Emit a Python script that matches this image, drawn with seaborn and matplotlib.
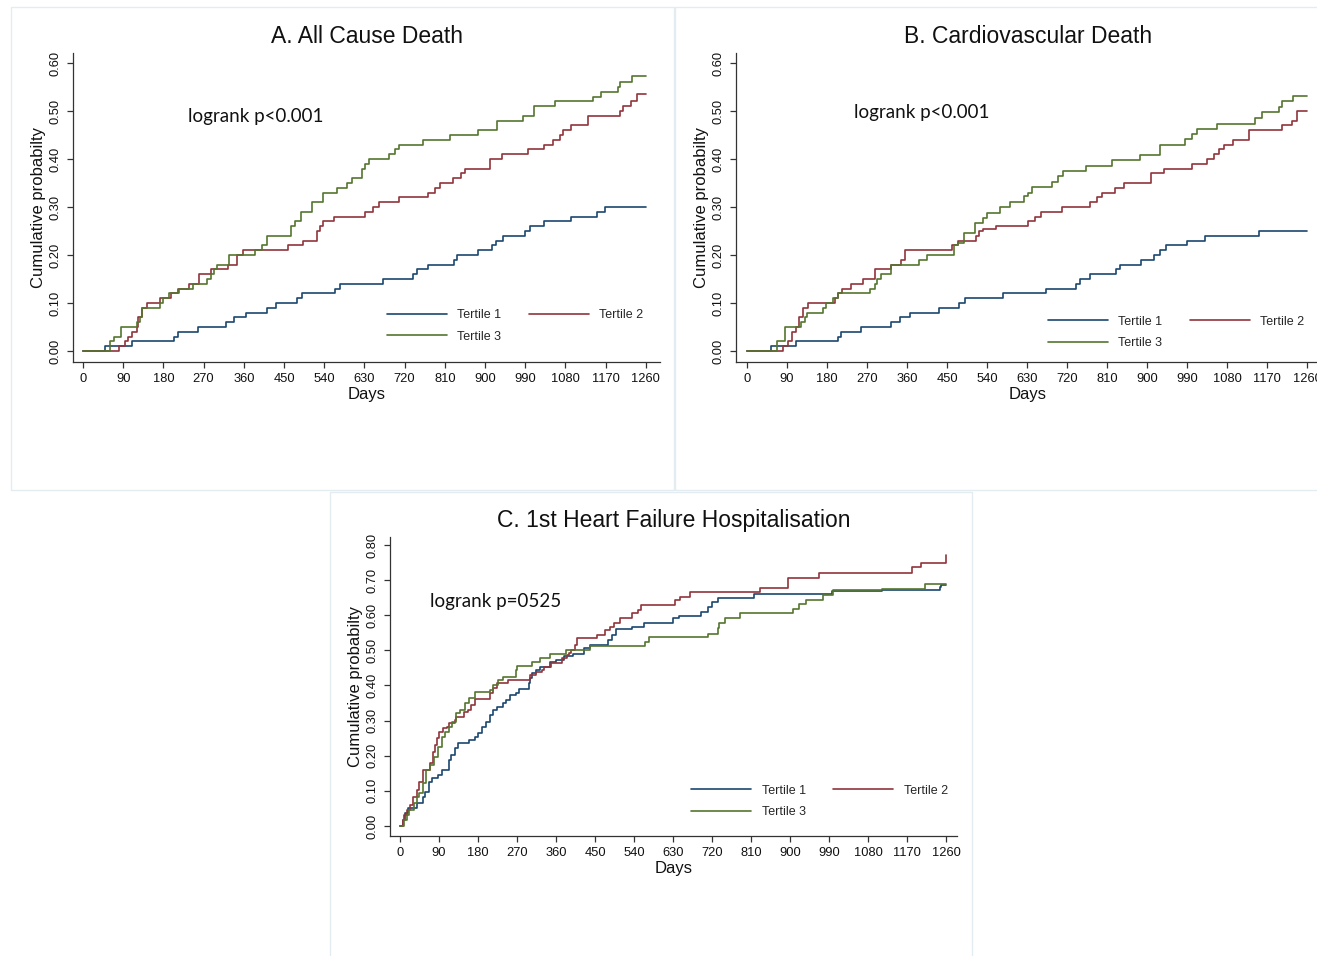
import numpy as np
import pandas as pd
import matplotlib
matplotlib.use("Agg")
import matplotlib.pyplot as plt
from matplotlib.lines import Line2D
from matplotlib.patches import Rectangle
import seaborn as sns

# ---------------- data ----------------
groups = ["Tertile 1", "Tertile 2", "Tertile 3"]
colors = ["#1a476f", "#90353b", "#55752f"]
xticks = list(range(0, 1261, 90))

# Panel A: All cause death
a_t1_days = [0, 50, 110, 204, 213, 257, 321, 339, 365, 411, 431, 478, 491, 564, 575, 671, 738, 748, 772,
             830, 838, 885, 915, 924, 941, 990, 1001, 1031, 1093, 1151, 1168, 1260]
a_t1_prob = [0, .01, .02, .03, .04, .05, .06, .07, .08, .09, .10, .11, .12, .13, .14, .15, .16, .17, .18,
             .19, .20, .21, .22, .23, .24, .25, .26, .27, .28, .29, .30, .30]
a_t2_days = [0, 80, 93, 101, 110, 120, 124, 131, 144, 172, 198, 213, 237, 260, 287, 324, 345, 358, 458, 493,
             524, 530, 538, 561, 632, 650, 662, 707, 772, 787, 800, 828, 847, 855, 911, 939, 997, 1033, 1052,
             1067, 1074, 1093, 1130, 1202, 1208, 1226, 1241, 1260]
a_t2_prob = [0, .01, .02, .03, .04, .05, .07, .09, .10, .11, .12, .13, .14, .16, .17, .18, .20, .21, .22, .23,
             .25, .26, .27, .28, .29, .30, .31, .32, .33, .34, .35, .36, .37, .38, .40, .41, .42, .43, .44,
             .45, .46, .47, .49, .50, .51, .52, .535, .535]
a_t3_days = [0, 61, 69, 84, 120, 127, 131, 172, 180, 193, 215, 247, 277, 287, 294, 301, 327, 386, 401, 411,
             465, 474, 489, 512, 538, 568, 590, 602, 624, 632, 641, 684, 698, 707, 761, 821, 884, 926, 984,
             1010, 1057, 1141, 1160, 1198, 1202, 1228, 1260]
a_t3_prob = [0, .02, .03, .05, .06, .07, .09, .10, .11, .12, .13, .14, .15, .16, .17, .18, .20, .21, .22, .24,
             .26, .27, .29, .31, .33, .34, .35, .36, .38, .39, .40, .41, .42, .43, .44, .45, .46, .48, .49,
             .51, .52, .53, .54, .55, .56, .573, .573]

# Panel B: Cardiovascular death
b_t1_days = [0, 53, 111, 204, 212, 257, 323, 344, 367, 432, 478, 490, 576, 673, 740, 750, 771, 830, 838,
             886, 915, 930, 943, 989, 1031, 1151, 1260]
b_t1_prob = [0, .01, .02, .03, .04, .05, .06, .07, .08, .09, .10, .11, .12, .13, .14, .15, .16, .17, .18,
             .19, .20, .21, .22, .23, .24, .25, .25]
b_t2_days = [0, 82, 92, 101, 111, 117, 126, 138, 197, 205, 214, 235, 260, 287, 324, 346, 356, 461, 475, 515,
             522, 532, 561, 633, 648, 662, 708, 771, 788, 799, 827, 849, 909, 939, 1000, 1035, 1050, 1062,
             1073, 1094, 1129, 1203, 1226, 1238, 1260]
b_t2_prob = [0, .01, .02, .04, .05, .07, .09, .10, .11, .12, .13, .14, .15, .17, .18, .19, .21, .22, .23, .24,
             .25, .255, .26, .27, .28, .29, .30, .31, .32, .33, .34, .35, .37, .38, .39, .40, .41, .42,
             .43, .44, .46, .47, .48, .50, .50]
b_t3_days = [0, 67, 86, 122, 130, 136, 172, 178, 193, 205, 277, 287, 293, 302, 324, 388, 405, 465, 475, 489,
             514, 532, 541, 570, 591, 624, 633, 641, 685, 700, 710, 763, 821, 884, 928, 985, 1001, 1012,
             1058, 1142, 1159, 1196, 1203, 1229, 1260]
b_t3_prob = [0, .02, .05, .06, .07, .08, .09, .10, .11, .12, .13, .14, .15, .16, .18, .19, .20, .22, .225, .245,
             .267, .278, .288, .30, .31, .323, .33, .342, .353, .365, .375, .386, .397, .408, .43, .441, .452,
             .462, .473, .485, .497, .509, .52, .532, .532]

# Panel C: 1st heart failure hospitalisation
c_t1_days = [0, 6, 12, 19, 40, 53, 57, 66, 74, 87, 96, 113, 117, 126, 134, 160, 173, 181, 190, 198, 207, 215,
             224, 237, 245, 254, 267, 275, 297, 301, 305, 314, 322, 345, 361, 378, 399, 425, 438, 480, 489,
             498, 536, 562, 630, 643, 694, 711, 720, 733, 818, 998, 1112, 1246, 1248, 1260]
c_t1_prob = [0, .017, .036, .05, .065, .083, .098, .126, .136, .145, .159, .188, .202, .221, .235, .245, .254,
             .264, .283, .297, .316, .33, .34, .349, .359, .373, .378, .389, .406, .42, .435, .444, .454,
             .468, .472, .484, .491, .506, .515, .529, .544, .56, .567, .579, .591, .599, .61, .624, .639,
             .648, .66, .669, .672, .681, .686, .686]
c_t2_days = [0, 6, 10, 17, 23, 29, 40, 44, 53, 70, 77, 80, 85, 91, 100, 109, 113, 126, 130, 147, 156, 164, 173,
             207, 214, 224, 250, 299, 314, 327, 333, 348, 374, 385, 391, 395, 404, 408, 455, 472, 485, 493,
             508, 536, 549, 557, 634, 647, 669, 831, 895, 966, 1182, 1203, 1259, 1260]
c_t2_prob = [0, .017, .03, .046, .06, .083, .102, .126, .159, .178, .212, .231, .25, .268, .278, .283, .292,
             .302, .311, .325, .33, .344, .361, .378, .392, .406, .416, .43, .439, .444, .454, .463, .477,
             .487, .493, .501, .515, .534, .544, .558, .567, .577, .591, .605, .615, .629, .643, .653, .667,
             .679, .705, .719, .736, .75, .771, .771]
c_t3_days = [0, 9, 15, 21, 32, 40, 44, 53, 60, 70, 79, 87, 96, 104, 113, 121, 130, 139, 151, 160, 173, 207,
             214, 226, 237, 267, 271, 305, 322, 345, 382, 438, 566, 575, 710, 733, 737, 750, 784, 908, 921,
             938, 976, 1000, 1113, 1212, 1260]
c_t3_prob = [0, .017, .031, .046, .065, .083, .093, .121, .159, .174, .197, .226, .254, .268, .283, .297, .321,
             .33, .349, .363, .382, .387, .401, .416, .425, .444, .455, .468, .479, .49, .501, .512, .525,
             .537, .548, .563, .577, .591, .605, .618, .632, .643, .657, .672, .674, .689, .689]

panels = [
    dict(title="A. All Cause Death", note="logrank p<0.001",
         series=[(a_t1_days, a_t1_prob), (a_t2_days, a_t2_prob), (a_t3_days, a_t3_prob)],
         yticks=[0, .1, .2, .3, .4, .5, .6]),
    dict(title="B. Cardiovascular Death", note="logrank p<0.001",
         series=[(b_t1_days, b_t1_prob), (b_t2_days, b_t2_prob), (b_t3_days, b_t3_prob)],
         yticks=[0, .1, .2, .3, .4, .5, .6]),
    dict(title="C. 1st Heart Failure Hospitalisation", note="logrank p=0525",
         series=[(c_t1_days, c_t1_prob), (c_t2_days, c_t2_prob), (c_t3_days, c_t3_prob)],
         yticks=[0, .1, .2, .3, .4, .5, .6, .7, .8]),
]

# ---------------- layout (pixels) ----------------
W, H = 1317, 956
sns.set_theme(style="ticks")
plt.rcParams["font.family"] = ["Liberation Sans", "DejaVu Sans"]

fig = plt.figure(figsize=(W / 100, H / 100), dpi=100)
fig.patch.set_facecolor("white")

# panel boxes (x0, y0_top, x1, y1_bottom)
boxes = [(11, 7, 674, 490), (675, 7, 1330, 490), (330, 492, 972, 970)]
for (x0, y0, x1, y1) in boxes:
    fig.patches.append(Rectangle((x0 / W, 1 - y1 / H), (x1 - x0) / W, (y1 - y0) / H,
                                 transform=fig.transFigure, fill=False,
                                 edgecolor="#e3ecf0", linewidth=1.0, zorder=0))

# axes geometry: (left, top, right, bottom) px ; xlim ; ylim ; note pos ; legend centre px
geo = [
    dict(px=(73, 53, 660, 362), xlim=(-22.4, 1291.6), ylim=(-0.0229, 0.6208),
         note=(235, 0.4875), leg=(515, 326)),
    dict(px=(736, 53, 1320, 362), xlim=(-24.75, 1289), ylim=(-0.0229, 0.6208),
         note=(241, 0.496), leg=(1176, 332.5)),
    dict(px=(390, 537, 957, 836), xlim=(-23.1, 1285.4), ylim=(-0.0285, 0.8228),
         note=(69, 0.638), leg=(819.5, 801.5)),
]

axis_col = "#333333"
for p, g in zip(panels, geo):
    l, t, r, b = g["px"]
    ax = fig.add_axes([l / W, 1 - b / H, (r - l) / W, (b - t) / H])
    rows = []
    for name, (d, v) in zip(groups, p["series"]):
        for di, vi in zip(d, v):
            rows.append((name, di, vi))
    df = pd.DataFrame(rows, columns=["group", "day", "prob"])
    sns.lineplot(data=df, x="day", y="prob", hue="group", palette=colors, hue_order=groups,
                 drawstyle="steps-post", estimator=None, sort=False, linewidth=1.2,
                 legend=False, ax=ax)
    ax.set_xlim(*g["xlim"])
    ax.set_ylim(*g["ylim"])
    ax.set_xticks(xticks)
    ax.set_xticklabels([str(x) for x in xticks])
    ax.set_yticks(p["yticks"])
    ax.set_yticklabels([f"{y:.2f}" for y in p["yticks"]], rotation=90, va="center")
    for s in ["top", "right"]:
        ax.spines[s].set_visible(False)
    for s in ["left", "bottom"]:
        ax.spines[s].set_color(axis_col)
        ax.spines[s].set_linewidth(0.9)
    ax.tick_params(axis="both", colors=axis_col, labelcolor="#111111", length=4.5, width=0.9,
                   labelsize=9.3)
    ax.tick_params(axis="x", pad=3.5)
    ax.tick_params(axis="y", pad=3.5)
    ax.set_xlabel("Days", fontsize=12, labelpad=1, color="#111111")
    ax.set_ylabel("Cumulative probabilty", fontsize=12, labelpad=3, color="#111111")
    ax.set_title(p["title"], fontsize=16.5, pad=7, color="#111111")
    ax.text(g["note"][0], g["note"][1], p["note"], fontsize=13.5, ha="left", va="center",
            family=["Lato", "DejaVu Sans"], color="#111111")
    handles = [Line2D([0], [0], color=colors[i], lw=1.2) for i in (0, 2, 1)]
    labels = [groups[i] for i in (0, 2, 1)]
    ax.legend(handles, labels, ncol=2, frameon=False, loc="center",
              bbox_to_anchor=(g["leg"][0] / W, 1 - g["leg"][1] / H),
              bbox_transform=fig.transFigure, fontsize=9,
              handlelength=4.8, handletextpad=0.85, columnspacing=2.2, labelspacing=0.75)
    ax.patch.set_alpha(0)

fig.savefig("out.png", dpi=100, facecolor="white")
